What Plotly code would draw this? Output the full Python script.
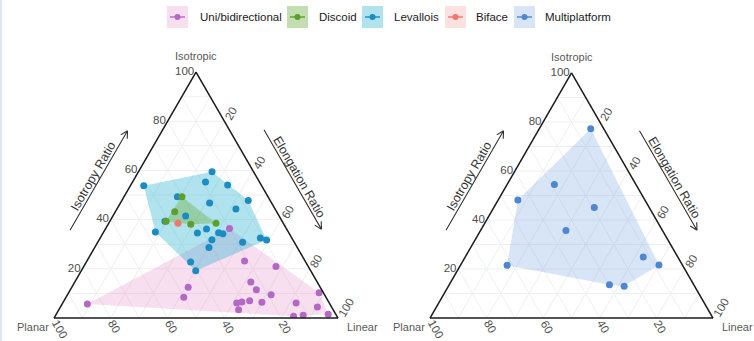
import math
import plotly.graph_objects as go

FIG_W, FIG_H = 754, 341
SQ3 = math.sqrt(3)

# ---- Shape ratios (%): Isotropy (top), Planar (left), Linear (right) ----
uni_iso = [36.4, 23.2, 20.9, 12.5, 8.4, 5.7, 14.6, 11.5, 7.0, 6.5, 6.1, 3.4, 6.4, 9.5, 10.3, 6.1, 4.5, 0.7, 1.1, 1.5]
uni_pla = [20.0, 21.3, 11.4, 46.5, 50.1, 85.4, 23.4, 23.0, 27.6, 30.6, 32.6, 33.3, 23.6, 18.8, 1.5, 11.7, 5.0, 15.3, 11.7, 2.7]
uni_lin = [43.6, 55.5, 67.7, 41.0, 41.5, 8.9, 62.0, 65.5, 65.4, 62.9, 61.3, 63.3, 70.0, 71.7, 88.2, 82.2, 90.5, 84.0, 87.2, 95.8]

disc_iso = [49.3, 43.2, 39.3, 38.1, 38.5]
disc_pla = [30.3, 35.9, 40.9, 32.8, 23.7]
disc_lin = [20.4, 20.9, 19.8, 29.1, 37.8]

lev_iso = [53.8, 59.5, 55.3, 54.1, 49.3, 46.8, 47.8, 44.3, 41.5, 39.3, 35.0,
           34.6, 36.2, 34.7, 34.3, 31.8, 28.7, 30.8, 32.5, 31.7, 22.8, 19.2]
lev_pla = [41.5, 14.6, 19.0, 11.8, 31.9, 21.8, 7.7, 13.8, 32.9, 41.3, 46.8,
           32.2, 28.2, 24.7, 23.4, 28.5, 31.1, 18.2, 11.1, 9.3, 40.5, 40.5]
lev_lin = [4.7, 25.9, 25.7, 34.1, 18.8, 31.4, 44.5, 41.9, 25.6, 19.4, 18.2,
           33.2, 35.6, 40.6, 42.3, 39.7, 40.2, 51.0, 56.4, 59.0, 36.7, 40.3]

bif_iso = [38.5]
bif_pla = [37.1]
bif_lin = [24.4]

multi_iso = [77.2, 54.5, 48.1, 45.1, 35.7, 24.9, 21.6, 21.5, 13.6, 13.0]
multi_pla = [4.6, 28.8, 44.9, 19.4, 34.1, 12.2, 8.3, 62.0, 29.8, 24.9]
multi_lin = [18.2, 16.7, 7.0, 35.5, 30.2, 62.9, 70.1, 16.5, 56.6, 62.1]

group_names = ["Uni/bidirectional", "Discoid", "Levallois", "Biface", "Multiplatform"]
tick_vals = [10, 20, 30, 40, 50, 60, 70, 80, 90, 100]
tick_text = ["", "20", "", "40", "", "60", "", "80", "", "100"]

# ---- styling ----
point_colors = {
    "Uni/bidirectional": "#B468C6",
    "Discoid": "#5E9F2C",
    "Levallois": "#1A8CC1",
    "Biface": "#F2766A",
    "Multiplatform": "#4E87D1",
}
hull_colors = {
    "Uni/bidirectional": "rgba(222,120,192,0.24)",
    "Discoid": "rgba(112,176,66,0.42)",
    "Levallois": "rgba(40,178,210,0.36)",
    "Biface": "rgba(242,118,106,0.22)",
    "Multiplatform": "rgba(100,150,220,0.25)",
}

FONT = "Liberation Sans, Arial, sans-serif"
TICK_SIZE = 11.5


def px(x):
    return x / FIG_W


def py(y):
    return 1 - y / FIG_H


def convex_hull(iso, pla, lin):
    """Convex hull of ternary points, returned as closed (a, b, c) lists."""
    idx = sorted(range(len(iso)), key=lambda i: (lin[i] + iso[i] / 2, iso[i]))
    xy = {i: (lin[i] + iso[i] / 2, iso[i] * SQ3 / 2) for i in idx}

    def cross(o, p, q):
        return (xy[p][0] - xy[o][0]) * (xy[q][1] - xy[o][1]) - (xy[p][1] - xy[o][1]) * (xy[q][0] - xy[o][0])

    lower, upper = [], []
    for i in idx:
        while len(lower) >= 2 and cross(lower[-2], lower[-1], i) <= 0:
            lower.pop()
        lower.append(i)
    for i in reversed(idx):
        while len(upper) >= 2 and cross(upper[-2], upper[-1], i) <= 0:
            upper.pop()
        upper.append(i)
    ring = lower[:-1] + upper[:-1]
    ring.append(ring[0])
    return [iso[i] for i in ring], [pla[i] for i in ring], [lin[i] for i in ring]


# Triangle frames in pixels: bottom-left corner x, base y, side length
frames = [
    dict(name="ternary", x0=54, base=318, side=284),
    dict(name="ternary2", x0=430, base=318, side=283),
]

panels = [
    [("Uni/bidirectional", uni_iso, uni_pla, uni_lin),
     ("Levallois", lev_iso, lev_pla, lev_lin),
     ("Discoid", disc_iso, disc_pla, disc_lin),
     ("Biface", bif_iso, bif_pla, bif_lin)],
    [("Multiplatform", multi_iso, multi_pla, multi_lin)],
]

fig = go.Figure()

for frame, groups in zip(frames, panels):
    sub = frame["name"]
    # hull polygons first, then the points on top
    for name, a, b, c in groups:
        if len(a) >= 3:
            ha, hb, hc = convex_hull(a, b, c)
            fig.add_trace(go.Scatterternary(
                a=ha, b=hb, c=hc, subplot=sub, mode="lines", fill="toself",
                fillcolor=hull_colors[name], line=dict(width=0, color=hull_colors[name]),
                hoverinfo="skip", showlegend=False,
            ))
    for name, a, b, c in groups:
        fig.add_trace(go.Scatterternary(
            a=a, b=b, c=c, subplot=sub, mode="markers", name=name,
            marker=dict(size=7, color=point_colors[name], line=dict(width=0)),
            showlegend=False,
        ))


def axis_style(angle, labels=True):
    return dict(
        title=dict(text=""),
        min=0,
        tickmode="array", tickvals=tick_vals, ticktext=tick_text,
        tickangle=angle,
        showticklabels=labels,
        tickfont=dict(family=FONT, size=TICK_SIZE, color="#4D4D4D"),
        ticks="",
        showgrid=True, gridcolor="#EEF0F1", gridwidth=0.8,
        showline=True, linecolor="#1A1A1A", linewidth=1.5,
    )


annotations = []
shapes = []

for frame in frames:
    x0, base, side = frame["x0"], frame["base"], frame["side"]
    height = side * SQ3 / 2
    apex = (x0 + side / 2, base - height)
    layout_key = frame["name"]
    fig.update_layout(**{layout_key: dict(
        domain=dict(x=[px(x0), px(x0 + side)], y=[py(base), py(base - height)]),
        sum=100,
        bgcolor="white",
        aaxis=axis_style(0),
        baxis=axis_style(60, labels=False),
        caxis=axis_style(-60),
    )})

    # Planar labels along the base, slanted and hanging from each tick
    for val, txt in zip(tick_vals, tick_text):
        if not txt:
            continue
        tx = x0 + side * (100 - val) / 100
        half = len(txt) * 0.556 * TICK_SIZE / 2
        cx = tx + 0.8 + half * 0.5
        cy = base + 3 + half * SQ3 / 2
        annotations.append(dict(
            text=txt, x=px(cx), y=py(cy), xref="paper", yref="paper", showarrow=False,
            textangle=60, xanchor="center", yanchor="middle",
            font=dict(family=FONT, size=TICK_SIZE, color="#4D4D4D"),
        ))

    # vertex titles
    title_font = dict(family=FONT, size=11, color="#595959")
    annotations += [
        dict(text="Isotropic", x=px(apex[0]), y=py(apex[1] - 16), xref="paper", yref="paper",
             showarrow=False, font=title_font, xanchor="center", yanchor="middle"),
        dict(text="Planar", x=px(x0 - 21), y=py(base + 9), xref="paper", yref="paper",
             showarrow=False, font=title_font, xanchor="center", yanchor="middle"),
        dict(text="Linear", x=px(x0 + side + 24), y=py(base + 9), xref="paper", yref="paper",
             showarrow=False, font=title_font, xanchor="center", yanchor="middle"),
    ]

    # edge arrows with their captions
    left_dir = (0.5, -SQ3 / 2)
    left_out = (-SQ3 / 2, -0.5)
    right_dir = (0.5, SQ3 / 2)
    right_out = (SQ3 / 2, -0.5)
    edges = [
        ((x0, base), left_dir, left_out, "Isotropy Ratio", -60),
        (apex, right_dir, right_out, "Elongation Ratio", 60),
    ]
    for origin, d, n, label, angle in edges:
        s_along, e_along, off = 84, 199, 30
        sx = origin[0] + d[0] * s_along + n[0] * off
        sy = origin[1] + d[1] * s_along + n[1] * off
        ex = origin[0] + d[0] * e_along + n[0] * off
        ey = origin[1] + d[1] * e_along + n[1] * off
        head = 8
        path = f"M{px(sx)},{py(sy)} L{px(ex)},{py(ey)}"
        for rot in (math.radians(28), -math.radians(28)):
            hx = -(d[0] * math.cos(rot) - d[1] * math.sin(rot))
            hy = -(d[0] * math.sin(rot) + d[1] * math.cos(rot))
            path += f" M{px(ex)},{py(ey)} L{px(ex + hx * head)},{py(ey + hy * head)}"
        shapes.append(dict(type="path", xref="paper", yref="paper", path=path,
                           line=dict(color="#333333", width=1.1)))
        mid = (s_along + e_along) / 2 + 1
        tx = origin[0] + d[0] * mid + n[0] * (off + 6.5)
        ty = origin[1] + d[1] * mid + n[1] * (off + 6.5)
        annotations.append(dict(
            text=label, x=px(tx), y=py(ty), xref="paper", yref="paper", showarrow=False,
            textangle=angle, xanchor="center", yanchor="middle",
            font=dict(family=FONT, size=12.5, color="#333333"),
        ))

# ---- legend row across the top ----
key_left = [167, 287, 362, 445, 514]
label_left = [198, 317, 392, 474, 543]
key_w, key_top, key_bot, key_mid = 21, 6, 28, 17
for name, kx, lx in zip(group_names, key_left, label_left):
    shapes.append(dict(type="rect", xref="paper", yref="paper",
                       x0=px(kx), x1=px(kx + key_w), y0=py(key_bot), y1=py(key_top),
                       fillcolor=hull_colors[name], line=dict(width=0), layer="below"))
    shapes.append(dict(type="line", xref="paper", yref="paper",
                       x0=px(kx + 3), x1=px(kx + key_w - 3), y0=py(key_mid), y1=py(key_mid),
                       line=dict(color=point_colors[name], width=1.4)))
    shapes.append(dict(type="circle", xref="paper", yref="paper",
                       xsizemode="pixel", ysizemode="pixel",
                       xanchor=px(kx + key_w / 2), yanchor=py(key_mid),
                       x0=-3, x1=3, y0=-3, y1=3,
                       fillcolor=point_colors[name], line=dict(width=0)))
    annotations.append(dict(text=name, x=px(lx), y=py(key_mid), xref="paper", yref="paper",
                            showarrow=False, xanchor="left", yanchor="middle",
                            font=dict(family=FONT, size=11.5, color="#1A1A1A")))

# thin tinted strip along the left page edge
shapes.append(dict(type="rect", xref="paper", yref="paper", x0=0, x1=px(2), y0=0, y1=1,
                   fillcolor="#DCE7F3", line=dict(width=0), layer="below"))

fig.update_layout(
    width=FIG_W, height=FIG_H,
    margin=dict(l=0, r=0, t=0, b=0),
    paper_bgcolor="white",
    showlegend=False,
    annotations=annotations,
    shapes=shapes,
    font=dict(family=FONT),
)

fig.write_html("out.html")
